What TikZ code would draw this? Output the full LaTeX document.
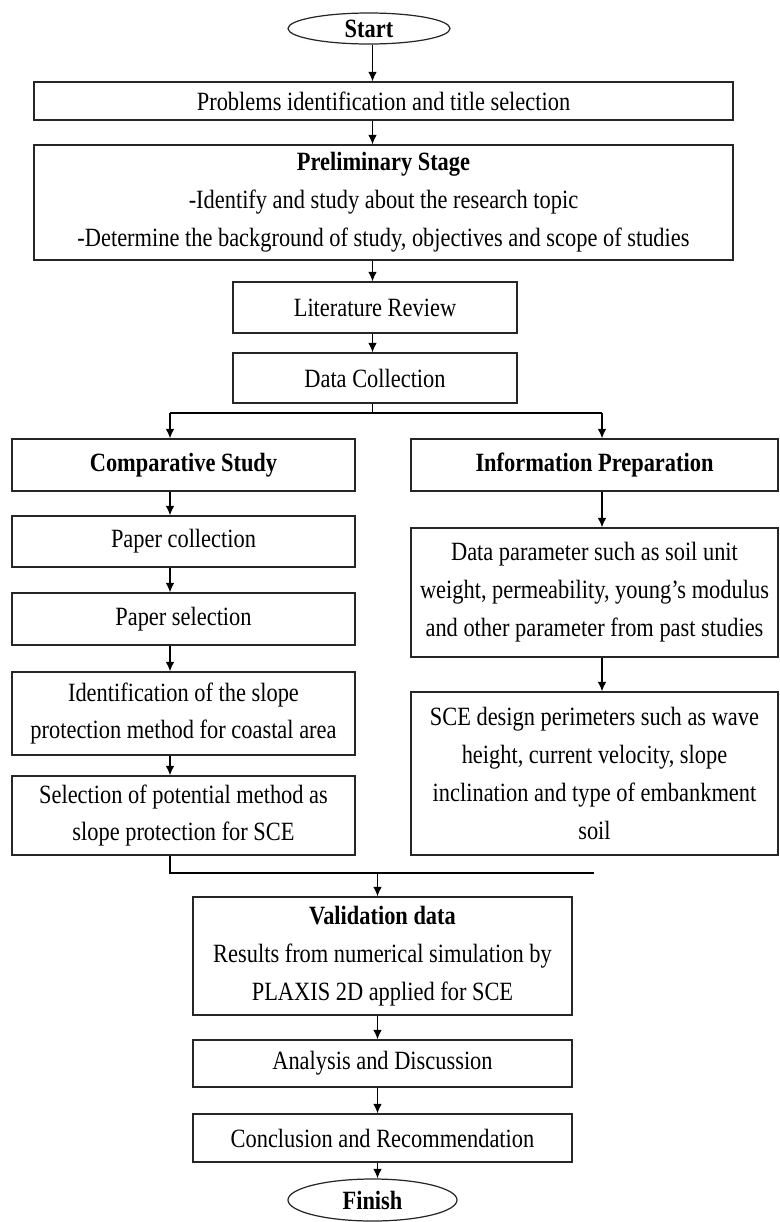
\documentclass[tikz,border=0pt]{standalone}
\usepackage{fontspec}
\setmainfont{Liberation Serif}[FakeStretch=0.85]
\usepackage{tikz}
\usetikzlibrary{shapes,arrows.meta,positioning,calc}

\begin{document}
\begin{tikzpicture}[
        font=\fontsize{15}{21.6}\selectfont,
        >={Latex[length=1.9mm,width=1.7mm]},
        % Block styles
        block/.style={
            rectangle,
            draw=black!85,
            line width=0.7pt,
            inner sep=0pt,
            align=center,
            minimum width=#1
        },
        startstop/.style={
            ellipse,
            draw=black!85,
            line width=0.7pt,
            inner sep=0pt,
            font=\fontsize{15}{21.6}\selectfont\bfseries
        },
        arrow/.style={->, line width=0.7pt},
        link/.style={-, line width=0.7pt}
    ]

    \useasboundingbox (0,0) rectangle (15.58,-24.44);

    % Column guides
    \coordinate (mcol) at (7.45,0);
    \coordinate (bcol) at (7.55,0);
    \coordinate (lcol) at (3.40,0);
    \coordinate (rcol) at (12.04,0);

    % Top part
    \node[startstop, minimum width=3.24cm, minimum height=0.62cm] (start) at (7.38,-0.57) {Start};
    \node[block=13.98cm, minimum height=0.76cm] (prob) at (7.67,-2.02) {Problems identification and title selection};
    \node[block=13.98cm, minimum height=2.30cm] (prelim) at (7.67,-4.05) {\textbf{Preliminary Stage}\\-Identify and study about the research topic\\-Determine the background of study, objectives and scope of studies};
    \node[block=5.68cm, minimum height=1.02cm] (lit) at (7.50,-6.15) {Literature Review};
    \node[block=5.68cm, minimum height=1.00cm] (data) at (7.50,-7.56) {Data Collection};

    % Left branch
    \node[block=6.86cm, minimum height=1.04cm] (comp) at (3.67,-9.30) {\textbf{Comparative Study}};
    \node[block=6.86cm, minimum height=1.02cm] (pcol) at (3.67,-10.83) {Paper collection};
    \node[block=6.86cm, minimum height=1.04cm] (psel) at (3.67,-12.38) {Paper selection};
    \node[block=6.86cm, minimum height=1.66cm] (ident) at (3.67,-14.27) {Identification of the slope\\protection method for coastal area};
    \node[block=6.86cm, minimum height=1.58cm] (selp) at (3.67,-16.31) {Selection of potential method as\\slope protection for SCE};

    % Right branch
    \node[block=7.34cm, minimum height=1.04cm] (info) at (11.89,-9.30) {\textbf{Information Preparation}};
    \node[block=7.34cm, minimum height=2.58cm] (dpar) at (11.89,-11.85) {Data parameter such as soil unit\\weight, permeability, young's modulus\\and other parameter from past studies};
    \node[block=7.34cm, minimum height=3.26cm] (sce) at (11.89,-15.47) {SCE design perimeters such as wave\\height, current velocity, slope\\inclination and type of embankment\\soil};

    % Bottom part
    \node[block=7.58cm, minimum height=2.36cm] (valid) at (7.65,-19.12) {\textbf{Validation data}\\Results from numerical simulation by\\PLAXIS 2D applied for SCE};
    \node[block=7.58cm, minimum height=0.94cm] (ana) at (7.65,-21.27) {Analysis and Discussion};
    \node[block=7.58cm, minimum height=0.96cm] (conc) at (7.65,-22.76) {Conclusion and Recommendation};
    \node[startstop, minimum width=3.38cm, minimum height=0.84cm] (finish) at (7.45,-24.00) {Finish};

    % Connections
    \draw[arrow] (start.south -| mcol) -- (prob.north -| mcol);
    \draw[arrow] (prob.south -| mcol) -- (prelim.north -| mcol);
    \draw[arrow] (prelim.south -| mcol) -- (lit.north -| mcol);
    \draw[arrow] (lit.south -| mcol) -- (data.north -| mcol);

    \coordinate (split) at (7.45,-8.26);
    \draw[link] (data.south -| mcol) -- (split);
    \draw[link] (split -| lcol) -- (split -| rcol);
    \draw[arrow] (split -| lcol) -- (comp.north -| lcol);
    \draw[arrow] (split -| rcol) -- (info.north -| rcol);

    \draw[arrow] (comp.south -| lcol) -- (pcol.north -| lcol);
    \draw[arrow] (pcol.south -| lcol) -- (psel.north -| lcol);
    \draw[arrow] (psel.south -| lcol) -- (ident.north -| lcol);
    \draw[arrow] (ident.south -| lcol) -- (selp.north -| lcol);

    \draw[arrow] (info.south -| rcol) -- (dpar.north -| rcol);
    \draw[arrow] (dpar.south -| rcol) -- (sce.north -| rcol);

    \coordinate (merge) at (7.55,-17.46);
    \coordinate (mergeend) at (11.88,-17.46);
    \draw[link] (selp.south -| lcol) |- (mergeend);
    \draw[arrow] (merge) -- (valid.north -| bcol);

    \draw[arrow] (valid.south -| bcol) -- (ana.north -| bcol);
    \draw[arrow] (ana.south -| bcol) -- (conc.north -| bcol);
    \draw[arrow] (conc.south -| bcol) -- (finish.north -| bcol);

\end{tikzpicture}
\end{document}
